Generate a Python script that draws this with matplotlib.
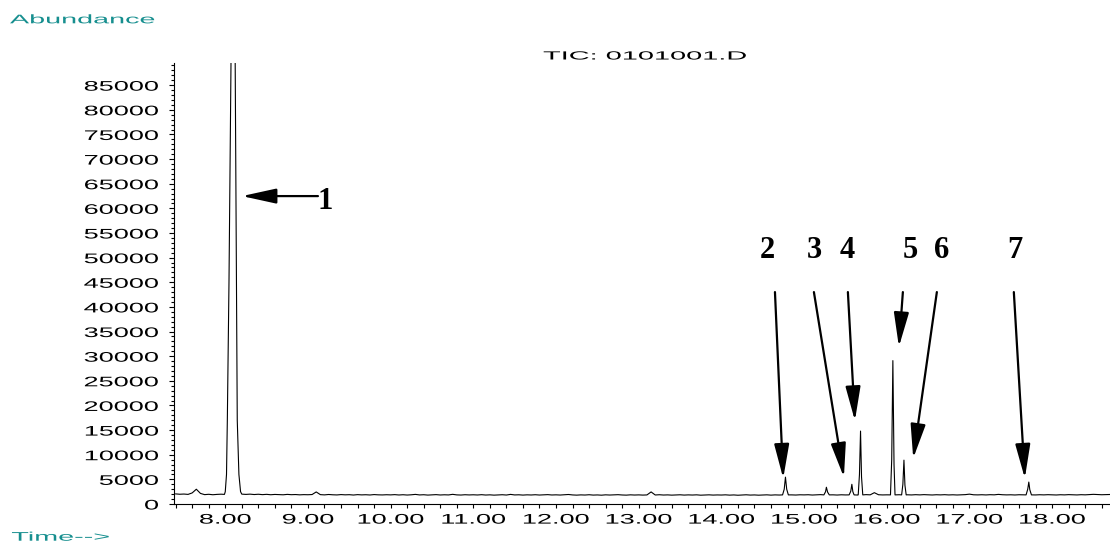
import numpy as np
import matplotlib
matplotlib.use('Agg')
import matplotlib.pyplot as plt
from matplotlib.patheffects import AbstractPathEffect
from matplotlib.transforms import Affine2D
from matplotlib.ticker import MultipleLocator

plt.rcParams['font.family'] = ['Liberation Sans', 'DejaVu Sans']

# TIC baseline, one reading every 0.05 min starting at 7.40 min
base_start = 7.40
base_step = 0.05
base_abund = [
    2050, 1980, 2020, 1950, 2250, 3000, 2150, 1900, 1970, 1880, 1950, 1990,          # 7.40-7.95
    2000, 2100, 2300, 2100, 2000, 1950, 2000, 1920, 1980, 1900, 1960, 1880, 1940, 1900, 1870, 1950, 1890, 1920, 1860, 1900,
    1880, 1920, 2450, 1900, 1850, 1930, 1870, 1840, 1910, 1860, 1890, 1820, 1900, 1850, 1880, 1830, 1910, 1860, 1840, 1880,
    1850, 1900, 1830, 1880, 1820, 1870, 1950, 1840, 1880, 1810, 1860, 1900, 1830, 1870, 1840, 1960, 1850, 1820, 1880, 1840,
    1870, 1830, 1890, 1820, 1860, 1800, 1850, 1880, 1820, 1950, 1840, 1870, 1810, 1860, 1830, 1880, 1820, 1850, 1900, 1830,
    1860, 1820, 1870, 1930, 1840, 1800, 1850, 1820, 1880, 1810, 1840, 1790, 1860, 1820, 1850, 1890, 1830, 1800, 1860, 1820,
    1850, 1810, 1840, 2450, 1830, 1880, 1820, 1850, 1800, 1840, 1870, 1810, 1850, 1820, 1860, 1790, 1830, 1860, 1810, 1840,
    1820, 1860, 1800, 1840, 1780, 1830, 1870, 1810, 1840, 1790, 1830, 1860, 1800, 1850, 1820, 1870, 1900, 1850, 1820, 1870,
    1850, 1880, 1820, 1860, 1900, 1870, 1830, 1860, 1820, 1870, 1840, 1880, 1850, 1820, 1870, 1900, 1860, 2300, 1880, 1840,
    1860, 1900, 1850, 1880, 1920, 1870, 1840, 1890, 1850, 1900, 1860, 1830, 1880, 1850, 1890, 1840, 1870, 1830, 1860, 1900,
    2000, 1870, 1850, 1880, 1840, 1890, 1860, 1950, 1880, 1850, 1870, 1830, 1880, 1850, 1900, 1860, 1840, 1880, 1850, 1890,
    1860, 1830, 1880, 1850, 1900, 1870, 1840, 1890, 1860, 1900, 1960, 1920, 1880, 1900, 1930,                          # 18.00-18.70
]

# peaks (retention time in min, abundance)
p1_rt = [7.99, 8.00, 8.015, 8.025, 8.045, 8.07, 8.09, 8.10, 8.12, 8.135, 8.145, 8.165, 8.185, 8.20]
p1_ab = [1950, 2500, 6000, 17000, 45000, 89500, 130000, 130000, 89500, 45000, 17000, 6000, 2500, 2000]
p2_rt = [14.74, 14.76, 14.775, 14.79, 14.81]
p2_ab = [1850, 3000, 5450, 3000, 1850]
p3a_rt = [15.24, 15.26, 15.27, 15.285, 15.305]
p3a_ab = [1850, 2500, 3400, 2400, 1850]
p3_rt = [15.545, 15.565, 15.578, 15.59, 15.605]
p3_ab = [1850, 2600, 4000, 2500, 1850]
p4_rt = [15.655, 15.67, 15.683, 15.695, 15.71]
p4_ab = [1850, 6000, 14800, 5500, 1850]
p5_rt = [16.045, 16.06, 16.074, 16.088, 16.10]
p5_ab = [1850, 9000, 29100, 8000, 1850]
p6_rt = [16.18, 16.195, 16.208, 16.22, 16.235]
p6_ab = [1850, 4000, 8900, 3800, 1850]
p7_rt = [17.685, 17.705, 17.718, 17.73, 17.75]
p7_ab = [1850, 3000, 4450, 2900, 1850]
peaks = [(p1_rt, p1_ab), (p2_rt, p2_ab), (p3a_rt, p3a_ab), (p3_rt, p3_ab),
         (p4_rt, p4_ab), (p5_rt, p5_ab), (p6_rt, p6_ab), (p7_rt, p7_ab)]

# numbered arrows
labels = ['1', '2', '3', '4', '5', '6', '7']
label_rt = [9.206, 14.55, 15.119, 15.518, 16.28, 16.667, 17.55]
label_ab = [61470, 51530, 51530, 51530, 51530, 51530, 51530]
tail_rt = [9.121, 14.648, 15.119, 15.53, 16.195, 16.606, 17.537]
tail_ab = [62490, 43010, 43010, 43010, 43010, 43010, 43010]
tip_rt = [8.202, 14.748, 15.482, 15.615, 16.147, 16.32, 17.67]
tip_ab = [62490, 5210, 5420, 16900, 31910, 9270, 5210]

teal = '#178f8f'


class Stretch(AbstractPathEffect):
    # the ChemStation font is drawn about twice as wide as Arial
    def __init__(self, sx, anchor='center'):
        super().__init__()
        self.sx = sx
        self.anchor = anchor

    def draw_path(self, renderer, gc, tpath, affine, rgbFace=None):
        ext = tpath.get_extents(affine)
        if self.anchor == 'left':
            x0 = ext.x0
        elif self.anchor == 'right':
            x0 = ext.x1
        else:
            x0 = (ext.x0 + ext.x1) / 2
        st = Affine2D().translate(-x0, 0).scale(self.sx, 1).translate(x0, 0)
        renderer.draw_path(gc, tpath, affine + st, rgbFace)


# put the trace together
base_rt = np.round(base_start + base_step * np.arange(len(base_abund)), 2)
base_ab = np.array(base_abund)
keep = np.ones(len(base_rt), bool)
for rt, ab in peaks:
    keep &= ~((base_rt >= rt[0]) & (base_rt <= rt[-1]))
rt_all = np.concatenate([base_rt[keep]] + [np.array(p[0]) for p in peaks])
ab_all = np.concatenate([base_ab[keep]] + [np.array(p[1]) for p in peaks])
order = np.argsort(rt_all)

fig = plt.figure(figsize=(11.1, 5.43), dpi=100)
ax = fig.add_axes([174 / 1110, 39 / 543, 936 / 1110, 441 / 543])
ax.plot(rt_all[order], ab_all[order], color='black', lw=0.8)

ax.set_xlim(7.38, 18.70)
ax.set_ylim(0, 89500)
ax.spines['top'].set_visible(False)
ax.spines['right'].set_visible(False)
ax.spines['left'].set_linewidth(0.8)
ax.spines['bottom'].set_linewidth(0.8)

ax.set_xticks(np.arange(8, 19, 1.0))
ax.set_xticklabels(['%.2f' % t for t in np.arange(8, 19, 1.0)])
ax.xaxis.set_minor_locator(MultipleLocator(0.2))
ax.set_yticks(np.arange(0, 90000, 5000))
ax.set_yticklabels([str(v) for v in range(0, 90000, 5000)])
ax.yaxis.set_minor_locator(MultipleLocator(1000))

ax.tick_params(axis='x', which='both', direction='out', length=3.2, width=0.8, labelsize=10, pad=3)
ax.tick_params(axis='y', which='major', direction='out', length=3.6, width=0.8, labelsize=10, pad=7.5)
ax.tick_params(axis='y', which='minor', direction='out', length=2, width=0.8)

for lbl in ax.get_xticklabels():
    lbl.set_path_effects([Stretch(1.95)])
for lbl in ax.get_yticklabels():
    lbl.set_path_effects([Stretch(1.95, 'right')])

for i in range(len(labels)):
    ax.annotate('', xy=(tip_rt[i], tip_ab[i]), xytext=(tail_rt[i], tail_ab[i]),
                arrowprops=dict(arrowstyle='-|>,head_length=1.05,head_width=0.23',
                                mutation_scale=20, color='black', lw=1.6,
                                shrinkA=0, shrinkB=0))
    ax.text(label_rt[i], label_ab[i], labels[i], ha='center', va='center',
            family='Liberation Serif', fontweight='bold', fontsize=22)

fig.text(645 / 1110, 1 - 59.5 / 543, 'TIC: 0101001.D', ha='center', va='baseline',
         fontsize=8.5, path_effects=[Stretch(2.45)])
fig.text(10 / 1110, 1 - 23.3 / 543, 'Abundance', ha='left', va='baseline',
         fontsize=9, color=teal, path_effects=[Stretch(2.3, 'left')])
fig.text(11.7 / 1110, 2.3 / 543, 'Time-->', ha='left', va='baseline',
         fontsize=9, color=teal, path_effects=[Stretch(2.3, 'left')])

fig.savefig('out.png', dpi=100)
